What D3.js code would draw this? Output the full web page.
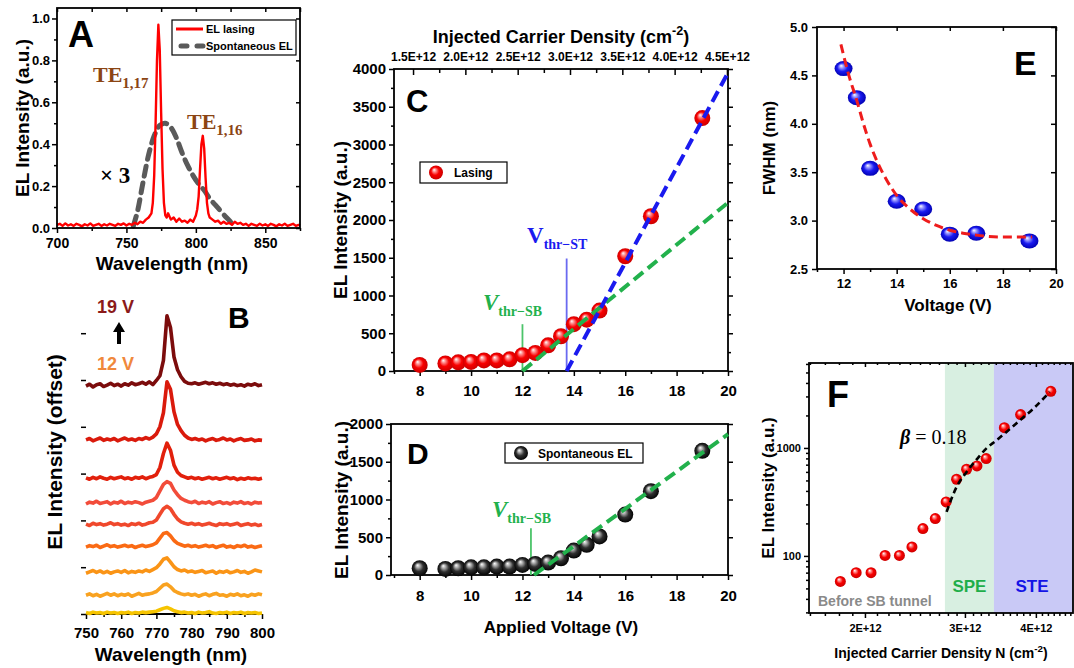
<!DOCTYPE html>
<html><head><meta charset="utf-8">
<script src="https://cdn.jsdelivr.net/npm/d3@7"></script>
<style>
body{margin:0;background:#fff;}
svg{display:block;}
</style></head><body>
<svg id="c" width="1074" height="668"></svg>
<script>
// ================= DATA =================
// Panel A
const aWavelength = [700,702,704,706,708,710,712,714,716,718,720,722,724,726,728,730,732,734,736,738,740,742,744,746,748,
  750,752,754,756,758,760,762,764,766,768,
  769,770,771,772,773,774,775,776,777,778,779,780,
  782,784,786,788,790,792,794,796,798,
  800,801,802,803,804,805,806,807,808,809,810,
  812,814,816,818,820,822,824,826,828,830,832,834,836,838,840,842,844,846,848,850,852,854,856,858,860,862,864,866,868,870,872,874,875];
const aLasing = [0.015,0.02,0.01,0.022,0.012,0.018,0.01,0.02,0.015,0.008,0.018,0.012,0.022,0.01,0.015,0.02,0.01,0.018,0.012,0.02,0.015,0.01,0.02,0.015,0.022,
  0.012,0.02,0.015,0.025,0.018,0.03,0.025,0.04,0.05,0.07,
  0.12,0.25,0.5,0.8,0.97,0.85,0.55,0.28,0.12,0.06,0.05,0.07,
  0.04,0.05,0.03,0.045,0.03,0.035,0.025,0.04,0.03,
  0.06,0.09,0.15,0.28,0.4,0.44,0.38,0.24,0.12,0.07,0.05,
  0.04,0.03,0.035,0.02,0.03,0.02,0.025,0.015,0.03,0.02,0.025,0.015,0.02,0.01,0.02,0.015,0.01,0.02,0.012,0.018,0.01,0.02,0.015,0.008,0.018,0.012,0.02,0.01,0.015,0.02,0.01,0.015,0.012];
const aSpontWl = [755,758,762,766,770,774,778,782,786,790,794,798,802,806,810,814,818,822,825];
const aSpont =   [0.01,0.08,0.22,0.35,0.44,0.49,0.50,0.48,0.43,0.36,0.30,0.25,0.21,0.18,0.14,0.11,0.08,0.05,0.03];
const aXTicks = [700,750,800,850];
const aXMinor = [725,775,825,875];
const aYTicks = [0,0.2,0.4,0.6,0.8,1.0];
const aYMinor = [0.1,0.3,0.5,0.7,0.9];

// Panel B (offset spectra, top = 19 V ... bottom = 12 V)
const bWavelength = [750,751,752,753,754,755,756,757,758,759,760,761,762,763,764,765,766,767,768,769,
  770,771,772,773,774,775,776,777,778,779,780,781,782,783,784,785,786,787,788,789,
  790,791,792,793,794,795,796,797,798,799,800];
const bTrace1 = [0.00,0.04,-0.02,0.03,0.05,-0.01,0.02,0.06,0.01,0.04, 0.00,0.05,0.02,0.07,0.03,0.05,0.08,0.04,0.09,0.03,
  0.12,0.22,0.55,1.50,1.25,0.62,0.35,0.20,0.10,0.06, 0.05,0.07,0.04,0.06,0.08,0.05,0.07,0.04,0.06,0.03,
  0.05,0.02,0.04,0.01,0.03,0.00,0.04,0.02,0.05,0.01, 0.03];
const bTrace2 = [0.02,0.05,0.00,0.03,0.06,0.01,0.04,0.02,0.05,0.00, 0.03,0.06,0.02,0.04,0.01,0.05,0.03,0.07,0.04,0.08,
  0.15,0.30,0.60,1.26,1.10,0.62,0.35,0.22,0.12,0.06, 0.03,0.05,0.02,0.04,0.00,0.03,0.05,0.01,0.03,0.06,
  0.02,0.04,0.00,0.03,0.05,0.01,0.02,0.04,0.00,0.02, 0.01];
const bTrace3 = [0.03,0.00,0.04,0.01,0.05,0.02,0.00,0.04,0.01,0.03, 0.05,0.01,0.03,0.00,0.04,0.02,0.05,0.01,0.04,0.06,
  0.10,0.25,0.55,0.77,0.62,0.30,0.15,0.08,0.05,0.02, 0.04,0.01,0.03,0.00,0.02,0.04,0.01,0.03,0.00,0.02,
  0.04,0.01,0.03,-0.01,0.02,0.00,0.03,0.01,0.02,0.00, 0.02];
const bTrace4 = [0.00,0.04,0.02,0.06,0.01,0.03,0.05,0.00,0.04,0.02, 0.06,0.01,0.04,0.02,0.05,0.03,0.00,0.04,0.06,0.08,
  0.14,0.28,0.42,0.48,0.44,0.30,0.20,0.12,0.08,0.05, 0.03,0.06,0.01,0.04,0.02,0.05,0.00,0.03,0.05,0.01,
  0.03,0.00,0.04,0.02,0.05,0.01,0.03,0.00,0.04,0.02, 0.03];
const bTrace5 = [0.03,0.00,0.05,0.02,0.04,0.01,0.03,0.06,0.02,0.04, 0.01,0.03,0.00,0.04,0.02,0.05,0.01,0.03,0.06,0.07,
  0.12,0.24,0.36,0.41,0.36,0.24,0.14,0.08,0.05,0.03, 0.05,0.02,0.04,0.01,0.03,0.05,0.02,0.00,0.04,0.02,
  0.04,0.01,0.03,0.05,0.00,0.02,0.04,0.01,0.03,0.00, 0.02];
const bTrace6 = [0.01,0.04,0.02,0.05,0.00,0.03,0.06,0.02,0.04,0.01, 0.03,0.05,0.02,0.04,0.00,0.03,0.05,0.02,0.04,0.06,
  0.10,0.20,0.30,0.32,0.25,0.15,0.09,0.06,0.03,0.05, 0.02,0.04,0.01,0.03,0.05,0.02,0.04,0.00,0.03,0.05,
  0.01,0.03,0.00,0.04,0.02,0.05,0.01,0.03,0.00,0.02, 0.04];
const bTrace7 = [0.00,0.03,0.06,0.02,0.05,0.01,0.04,0.00,0.03,0.05, 0.02,0.06,0.01,0.04,0.02,0.05,0.03,0.07,0.04,0.08,
  0.12,0.20,0.30,0.33,0.24,0.14,0.08,0.05,0.07,0.03, 0.05,0.02,0.04,0.06,0.01,0.03,0.05,0.00,0.04,0.02,
  0.05,0.01,0.03,0.06,0.02,0.04,0.00,0.03,0.07,0.05, 0.03];
const bTrace8 = [0.02,0.05,0.01,0.04,0.00,0.03,0.06,0.02,0.05,0.01, 0.04,0.02,0.05,0.00,0.03,0.06,0.02,0.04,0.05,0.07,
  0.10,0.17,0.24,0.26,0.20,0.12,0.08,0.05,0.03,0.05, 0.02,0.04,0.00,0.03,0.05,0.01,0.04,0.06,0.02,0.03,
  0.00,0.04,0.02,0.05,0.01,0.03,0.00,0.04,0.02,0.05, 0.03];
const bTrace9 = [0.02,0.00,0.03,0.01,0.02,0.00,0.03,0.01,0.02,0.00, 0.02,0.01,0.03,0.00,0.02,0.01,0.03,0.02,0.03,0.04,
  0.05,0.08,0.11,0.13,0.10,0.06,0.04,0.02,0.03,0.01, 0.02,0.00,0.03,0.01,0.02,0.04,0.01,0.00,0.02,0.01,
  0.03,0.00,0.02,0.01,0.03,0.00,0.02,0.01,0.02,0.00, 0.01];
const bTraces = [bTrace1,bTrace2,bTrace3,bTrace4,bTrace5,bTrace6,bTrace7,bTrace8,bTrace9];
const bOffsets = [4.87,3.70,2.88,2.35,1.89,1.42,0.87,0.38,0.01];
const bColors = ["#7c0c0c","#da1a0c","#e2200c","#f24c3a","#f0482c","#fa6a14","#fa9416","#f9a220","#f6c400"];
const bXTicks = [750,760,770,780,790,800];
const bXMinor = [755,765,775,785,795];
const bYTicks = [0,1,2,3,4,5,6];

// Panel C
const cVoltage = [8,9,9.5,10,10.5,11,11.5,12,12.5,13,13.5,14,14.5,15,16,17,19];
const cLasing  = [80,100,115,120,140,140,155,210,240,340,460,620,680,800,1520,2050,3350];
const cGreenFitV = [12,20];   const cGreenFitI = [0,2230];
const cBlueFitV  = [13.72,20]; const cBlueFitI = [0,3950];
const cXTicks = [8,10,12,14,16,18,20];
const cXMinor = [7,9,11,13,15,17,19];
const cYTicks = [0,500,1000,1500,2000,2500,3000,3500,4000];
const cYMinor = [250,750,1250,1750,2250,2750,3250,3750];
const cTopTicks = [1.5e12,2.0e12,2.5e12,3.0e12,3.5e12,4.0e12,4.5e12];
const cTopMinor = [1.75e12,2.25e12,2.75e12,3.25e12,3.75e12,4.25e12];

// Panel D
const dVoltage = [8,9,9.5,10,10.5,11,11.5,12,12.5,13,13.5,14,14.5,15,16,17,19];
const dSpont   = [89,80,89,102,102,111,111,133,147,164,222,324,400,511,800,1110,1645];
const dFitV = [12.45,20]; const dFitI = [0,1865];
const dYTicks = [0,500,1000,1500,2000];
const dYMinor = [250,750,1250,1750];

// Panel E
const eVoltage = [12,12.5,13,14,15,16,17,19];
const eFWHM    = [4.57,4.27,3.54,3.20,3.12,2.86,2.87,2.79];
const eFitV = [11.9,12.2,12.5,12.75,13,13.3,13.6,14,14.5,15,15.5,16,16.5,17,18,19.1];
const eFitW = [4.82,4.50,4.24,4.00,3.79,3.59,3.43,3.26,3.12,3.02,2.95,2.90,2.87,2.85,2.83,2.83];
const eXTicks = [12,14,16,18,20];
const eXMinor = [11,13,15,17,19];
const eYTicks = [2.5,3.0,3.5,4.0,4.5,5.0];

// Panel F
const fDensity   = [1.81e12,1.93e12,2.05e12,2.17e12,2.30e12,2.42e12,2.53e12,2.66e12,2.78e12,2.90e12,3.02e12,3.15e12,3.27e12,3.52e12,3.76e12,4.25e12];
const fIntensity = [58,70,70,101,101,121,179,222,316,513,635,681,797,1542,2036,3348];
const fFitN = [2.785e12,2.90e12,3.02e12,3.145e12,3.27e12,3.41e12,3.55e12,3.75e12,3.96e12,4.23e12];
const fFitI = [256,435,600,780,986,1178,1406,1803,2312,3300];
const fSPE = [2.766e12,3.374e12];
const fSTE = [3.374e12,4.65e12];
const fXTicks = [2e12,3e12,4e12];
const fXMinor = [1.6e12,1.7e12,1.8e12,1.9e12,2.1e12,2.2e12,2.3e12,2.4e12,2.5e12,2.6e12,2.7e12,2.8e12,2.9e12,3.1e12,3.2e12,3.3e12,3.4e12,3.5e12,3.6e12,3.7e12,3.8e12,3.9e12,4.1e12,4.2e12,4.3e12,4.4e12,4.5e12,4.6e12];
const fYTicks = [100,1000];
const fYMinor = [30,40,50,60,70,80,90,200,300,400,500,600,700,800,900,2000,3000,4000,5000,6000];

// ================= DRAWING =================
const FONT = "'Liberation Sans', Arial, Helvetica, sans-serif";
const SERIF = "'Liberation Serif', 'Times New Roman', serif";
const svg = d3.select("#c");
const defs = svg.append("defs");
function sphereGrad(id, light, base, dark){
  const g = defs.append("radialGradient").attr("id", id)
    .attr("cx","50%").attr("cy","50%").attr("r","52%").attr("fx","36%").attr("fy","30%");
  g.append("stop").attr("offset","0%").attr("stop-color","#ffffff");
  g.append("stop").attr("offset","22%").attr("stop-color", light);
  g.append("stop").attr("offset","55%").attr("stop-color", base);
  g.append("stop").attr("offset","100%").attr("stop-color", dark);
}
sphereGrad("gRed","#ff9090","#f80000","#c80000");
sphereGrad("gBlack","#b0b0b0","#303030","#000000");
sphereGrad("gBlue","#9a9aff","#1a1af0","#0000b0");

function frame(x0,y0,x1,y1){
  svg.append("rect").attr("x",x0).attr("y",y0).attr("width",x1-x0).attr("height",y1-y0)
    .attr("fill","none").attr("stroke","#000").attr("stroke-width",1.8);
}
function axisG(gen, tx, ty, fs){
  const g = svg.append("g").attr("transform",`translate(${tx},${ty})`).call(gen);
  g.select(".domain").remove();
  g.attr("font-family",FONT).attr("font-size",fs||12).attr("font-weight","bold");
  g.selectAll(".tick line").attr("stroke","#000").attr("stroke-width",1.5);
  g.selectAll(".tick text").attr("fill","#000");
  return g;
}
function ticks(gen, tx, ty){
  const g = axisG(gen.tickFormat(""), tx, ty, 10);
  g.selectAll("text").remove();
  return g;
}
function text(x,y,s,o){
  const t = svg.append("text").attr("x",x).attr("y",y).text(s)
    .attr("font-family",o.family||FONT).attr("font-size",o.size||12)
    .attr("font-weight",o.weight||"bold").attr("fill",o.fill||"#000")
    .attr("text-anchor",o.anchor||"start");
  if(o.style) t.attr("font-style",o.style);
  return t;
}
function vtitle(x,y,s,size){
  return svg.append("text").attr("transform",`translate(${x},${y}) rotate(-90)`)
    .attr("text-anchor","middle").attr("dy","0.35em").attr("font-family",FONT)
    .attr("font-size",size).attr("font-weight","bold").attr("fill","#000").text(s);
}
function supTitle(x,y,pre,sup,post,size,weight){
  const t = svg.append("text").attr("x",x).attr("y",y).attr("text-anchor","middle")
    .attr("font-family",FONT).attr("font-size",size).attr("font-weight",weight||"bold").attr("fill","#000");
  t.append("tspan").text(pre);
  t.append("tspan").attr("dy",-size*0.42).attr("font-size",size*0.7).text(sup);
  t.append("tspan").attr("dy",size*0.42).text(post);
  return t;
}
function subLabel(x,y,main,sub,size,subSize,fill,italic){
  const t = svg.append("text").attr("x",x).attr("y",y).attr("font-family",SERIF)
    .attr("font-weight","bold").attr("fill",fill).attr("font-size",size);
  const m = t.append("tspan").text(main);
  if(italic) m.attr("font-style","italic");
  t.append("tspan").attr("dy",size*0.25).attr("font-size",subSize).text(sub);
  return t;
}

// ---------- Panel A ----------
{
  const x = d3.scaleLinear().domain([700,875]).range([57,300]);
  const y = d3.scaleLinear().domain([0,1.05]).range([228,8]);
  svg.append("path").datum(d3.zip(aSpontWl,aSpont))
    .attr("d", d3.line().x(d=>x(d[0])).y(d=>y(d[1])).curve(d3.curveCatmullRom))
    .attr("fill","none").attr("stroke","#5a5a5a").attr("stroke-width",5)
    .attr("stroke-dasharray","10,7").attr("stroke-linecap","round");
  svg.append("path").datum(d3.zip(aWavelength,aLasing))
    .attr("d", d3.line().x(d=>x(d[0])).y(d=>y(d[1])))
    .attr("fill","none").attr("stroke","#ff0000").attr("stroke-width",2.4).attr("stroke-linejoin","round");
  frame(57,8,300,228);
  axisG(d3.axisBottom(x).tickValues(aXTicks).tickFormat(d3.format("d")).tickSize(5).tickPadding(5),0,228,14);
  ticks(d3.axisBottom(x).tickValues(aXMinor).tickSize(3),0,228);
  axisG(d3.axisLeft(y).tickValues(aYTicks).tickFormat(d3.format(".1f")).tickSize(5).tickPadding(2),57,0,13);
  ticks(d3.axisLeft(y).tickValues(aYMinor).tickSize(3),57,0);
  ticks(d3.axisTop(x).tickValues(aXTicks.concat(aXMinor)).tickSize(-4),0,8);
  ticks(d3.axisRight(y).tickValues(aYTicks).tickSize(-4),300,0);
  text(172,270,"Wavelength (nm)",{size:19,anchor:"middle"});
  vtitle(22,118,"EL Intensity (a.u.)",19);
  text(68,47,"A",{size:36});
  // legend
  svg.append("rect").attr("x",172).attr("y",20).attr("width",124).attr("height",35)
    .attr("fill","#fff").attr("stroke","#000").attr("stroke-width",1.2);
  svg.append("line").attr("x1",176).attr("x2",203).attr("y1",29).attr("y2",29).attr("stroke","#ff0000").attr("stroke-width",3);
  svg.append("line").attr("x1",181).attr("x2",204).attr("y1",46).attr("y2",46).attr("stroke","#5a5a5a")
    .attr("stroke-width",5).attr("stroke-dasharray","6,10").attr("stroke-linecap","round");
  text(206,33,"EL lasing",{size:11});
  text(206,50,"Spontaneous EL",{size:11});
  subLabel(93,82,"TE","1,17",22,15,"#8b4513");
  subLabel(187,129,"TE","1,16",22,15,"#8b4513");
  text(100,183,"× 3",{size:23,family:SERIF,weight:"bold"});
}

// ---------- Panel B ----------
{
  const x = d3.scaleLinear().domain([750,800]).range([86,262]);
  const y = d3.scaleLinear().domain([0,7]).range([614,286.4]);
  svg.append("line").attr("x1",86).attr("x2",262).attr("y1",614).attr("y2",614).attr("stroke","#000").attr("stroke-width",1.8);
  axisG(d3.axisBottom(x).tickValues(bXTicks).tickFormat(d3.format("d")).tickSize(5).tickPadding(8),0,614,15);
  ticks(d3.axisBottom(x).tickValues(bXMinor).tickSize(3),0,614);
  ticks(d3.axisLeft(y).tickValues(bYTicks).tickSize(5),86,0);
  const ln = d3.line().x(d=>x(d[0])).y(d=>y(d[1]));
  bTraces.slice().reverse().forEach((tr,ri)=>{
    const i = bTraces.length-1-ri;
    svg.append("path").datum(d3.zip(bWavelength, tr.map(v=>v+bOffsets[i])))
      .attr("d", ln).attr("fill","none").attr("stroke",bColors[i]).attr("stroke-width",3.6)
      .attr("stroke-linejoin","round");
  });
  text(171,661,"Wavelength (nm)",{size:19,anchor:"middle"});
  vtitle(55,452,"EL Intensity (offset)",21);
  text(228,328,"B",{size:30});
  text(97,313,"19 V",{size:18,fill:"#8b1a1a"});
  text(97,370,"12 V",{size:18,fill:"#f0883c"});
  svg.append("line").attr("x1",119).attr("x2",119).attr("y1",344).attr("y2",330).attr("stroke","#000").attr("stroke-width",4);
  svg.append("path").attr("d","M119,322 L113,332 L125,332 Z").attr("fill","#000");
}

// ---------- Panel C ----------
{
  const x = d3.scaleLinear().domain([7,20]).range([394,728]);
  const y = d3.scaleLinear().domain([0,4000]).range([371,69]);
  const top = d3.scaleLinear().domain([1.318e12,4.51e12]).range([394,728]);
  frame(394,69,728,371);
  axisG(d3.axisBottom(x).tickValues(cXTicks).tickFormat(d3.format("d")).tickSize(5).tickPadding(9),0,371,15);
  ticks(d3.axisBottom(x).tickValues(cXMinor).tickSize(3),0,371);
  axisG(d3.axisLeft(y).tickValues(cYTicks).tickFormat(d3.format("d")).tickSize(5).tickPadding(3),394,0,15);
  ticks(d3.axisLeft(y).tickValues(cYMinor).tickSize(3),394,0);
  ticks(d3.axisRight(y).tickValues(cYTicks).tickSize(5),728,0);
  ticks(d3.axisRight(y).tickValues(cYMinor).tickSize(3),728,0);
  axisG(d3.axisTop(top).tickValues(cTopTicks).tickFormat(d=>(d/1e12).toFixed(1)+"E+12").tickSize(0).tickPadding(8),0,69,12);
  ticks(d3.axisTop(top).tickValues(cTopTicks).tickSize(-6),0,69);
  ticks(d3.axisTop(top).tickValues(cTopMinor).tickSize(-4),0,69);
  supTitle(561,43,"Injected Carrier Density (cm","-2",")",18);
  vtitle(340,220,"EL Intensity (a.u.)",19);
  text(406,112,"C",{size:31});
  // threshold markers
  svg.append("line").attr("x1",x(12)).attr("x2",x(12)).attr("y1",y(0)).attr("y2",y(620)).attr("stroke","#4cc46a").attr("stroke-width",1.8);
  svg.append("line").attr("x1",x(13.72)).attr("x2",x(13.72)).attr("y1",y(0)).attr("y2",y(1490)).attr("stroke","#6a6af0").attr("stroke-width",1.8);
  svg.append("g").selectAll("circle").data(d3.zip(cVoltage,cLasing)).join("circle")
    .attr("cx",d=>x(d[0])).attr("cy",d=>y(d[1])).attr("r",8).attr("fill","url(#gRed)");
  const ln = d3.line().x(d=>x(d[0])).y(d=>y(d[1]));
  svg.append("path").datum(d3.zip(cGreenFitV,cGreenFitI)).attr("d",ln).attr("fill","none")
    .attr("stroke","#22b14c").attr("stroke-width",4).attr("stroke-dasharray","12,6");
  svg.append("path").datum(d3.zip(cBlueFitV,cBlueFitI)).attr("d",ln).attr("fill","none")
    .attr("stroke","#1a1aef").attr("stroke-width",4).attr("stroke-dasharray","12,6");
  subLabel(527,243,"V","thr−ST",23,14,"#1a1aef",false);
  subLabel(483,310,"V","thr−SB",23,14,"#22b14c",true);
  // legend
  svg.append("rect").attr("x",420).attr("y",162).attr("width",87).attr("height",21)
    .attr("fill","#fff").attr("stroke","#000").attr("stroke-width",1.2);
  svg.append("circle").attr("cx",436).attr("cy",172.5).attr("r",7).attr("fill","url(#gRed)");
  text(454,177,"Lasing",{size:12});
}

// ---------- Panel D ----------
{
  const x = d3.scaleLinear().domain([7,20]).range([394,728]);
  const y = d3.scaleLinear().domain([0,2000]).range([575,424]);
  frame(391,424,728,575);
  axisG(d3.axisBottom(x).tickValues(cXTicks).tickFormat(d3.format("d")).tickSize(5).tickPadding(10),0,575,15);
  ticks(d3.axisBottom(x).tickValues(cXMinor).tickSize(3),0,575);
  axisG(d3.axisLeft(y).tickValues(dYTicks).tickFormat(d3.format("d")).tickSize(5).tickPadding(3),391,0,15);
  ticks(d3.axisLeft(y).tickValues(dYMinor).tickSize(3),391,0);
  ticks(d3.axisRight(y).tickValues(dYTicks).tickSize(5),728,0);
  text(561,633,"Applied Voltage (V)",{size:17,anchor:"middle"});
  vtitle(341,500,"EL Intensity (a.u.)",19);
  text(407,464,"D",{size:30});
  svg.append("line").attr("x1",x(12.33)).attr("x2",x(12.33)).attr("y1",y(0)).attr("y2",y(620)).attr("stroke","#4cc46a").attr("stroke-width",1.8);
  svg.append("g").selectAll("circle").data(d3.zip(dVoltage,dSpont)).join("circle")
    .attr("cx",d=>x(d[0])).attr("cy",d=>y(d[1])).attr("r",8).attr("fill","url(#gBlack)");
  svg.append("path").datum(d3.zip(dFitV,dFitI)).attr("d",d3.line().x(d=>x(d[0])).y(d=>y(d[1])))
    .attr("fill","none").attr("stroke","#22b14c").attr("stroke-width",4).attr("stroke-dasharray","12,6");
  subLabel(492,517,"V","thr−SB",23,14,"#22b14c",true);
  svg.append("rect").attr("x",505).attr("y",443).attr("width",138).attr("height",20)
    .attr("fill","#fff").attr("stroke","#000").attr("stroke-width",1.2);
  svg.append("circle").attr("cx",521).attr("cy",453).attr("r",7).attr("fill","url(#gBlack)");
  text(538,458,"Spontaneous EL",{size:12});
}

// ---------- Panel E ----------
{
  const x = d3.scaleLinear().domain([11,20]).range([817,1056]);
  const y = d3.scaleLinear().domain([2.5,5.0]).range([269,27]);
  frame(817,27,1056,269);
  axisG(d3.axisBottom(x).tickValues(eXTicks).tickFormat(d3.format("d")).tickSize(5).tickPadding(5),0,269,13);
  ticks(d3.axisBottom(x).tickValues(eXMinor).tickSize(3),0,269);
  axisG(d3.axisLeft(y).tickValues(eYTicks).tickFormat(d3.format(".1f")).tickSize(5).tickPadding(4),817,0,13);
  ticks(d3.axisRight(y).tickValues(eYTicks).tickSize(-5),1056,0);
  ticks(d3.axisTop(x).tickValues(eXTicks).tickSize(-4),0,27);
  text(948,311,"Voltage (V)",{size:17,anchor:"middle"});
  vtitle(769,148,"FWHM (nm)",17);
  text(1014,75,"E",{size:34});
  svg.append("g").selectAll("ellipse").data(d3.zip(eVoltage,eFWHM)).join("ellipse")
    .attr("cx",d=>x(d[0])).attr("cy",d=>y(d[1])).attr("rx",9).attr("ry",7.5).attr("fill","url(#gBlue)");
  svg.append("path").datum(d3.zip(eFitV,eFitW)).attr("d",d3.line().x(d=>x(d[0])).y(d=>y(d[1])).curve(d3.curveMonotoneX))
    .attr("fill","none").attr("stroke","#ee1c1c").attr("stroke-width",3).attr("stroke-dasharray","9,5");
}

// ---------- Panel F ----------
{
  const x = d3.scaleLog().domain([1.594e12,4.65e12]).range([809,1073]);
  const y = d3.scaleLog().domain([29.6,6120]).range([613,363]);
  svg.append("rect").attr("x",x(fSPE[0])).attr("y",363).attr("width",x(fSPE[1])-x(fSPE[0])).attr("height",250).attr("fill","#d8efe1");
  svg.append("rect").attr("x",x(fSTE[0])).attr("y",363).attr("width",x(fSTE[1])-x(fSTE[0])).attr("height",250).attr("fill","#c9c9f6");
  frame(809,363,1073,613);
  axisG(d3.axisBottom(x).tickValues(fXTicks).tickFormat(d=>(d/1e12)+"E+12").tickSize(5).tickPadding(6),0,613,11);
  ticks(d3.axisBottom(x).tickValues(fXMinor).tickSize(3),0,613);
  axisG(d3.axisLeft(y).tickValues(fYTicks).tickFormat(d3.format("d")).tickSize(5).tickPadding(3),809,0,11);
  ticks(d3.axisLeft(y).tickValues(fYMinor).tickSize(3),809,0);
  ticks(d3.axisTop(x).tickValues(fXTicks).tickSize(-4),0,363);
  ticks(d3.axisTop(x).tickValues(fXMinor).tickSize(-2),0,363);
  supTitle(941,658,"Injected Carrier Density N (cm","-2",")",14,"bold");
  vtitle(768,488,"EL Intensity (a.u.)",17);
  text(827,407,"F",{size:36});
  text(818,606,"Before SB tunnel",{size:14,fill:"#8a8a8a"});
  text((x(fSPE[0])+x(fSPE[1]))/2,592,"SPE",{size:17,fill:"#1fae4a",anchor:"middle"});
  text(1032,592,"STE",{size:17,fill:"#1414e6",anchor:"middle"});
  svg.append("g").selectAll("circle").data(d3.zip(fDensity,fIntensity)).join("circle")
    .attr("cx",d=>x(d[0])).attr("cy",d=>y(d[1])).attr("r",5.5).attr("fill","url(#gRed)");
  svg.append("path").datum(d3.zip(fFitN,fFitI)).attr("d",d3.line().x(d=>x(d[0])).y(d=>y(d[1])).curve(d3.curveMonotoneX))
    .attr("fill","none").attr("stroke","#000").attr("stroke-width",2.6).attr("stroke-dasharray","6,4");
  const b = svg.append("text").attr("x",900).attr("y",444).attr("font-family",SERIF).attr("font-size",20).attr("fill","#000");
  b.append("tspan").attr("font-style","italic").attr("font-weight","bold").text("β");
  b.append("tspan").text(" = 0.18");
}
</script>
</body></html>
